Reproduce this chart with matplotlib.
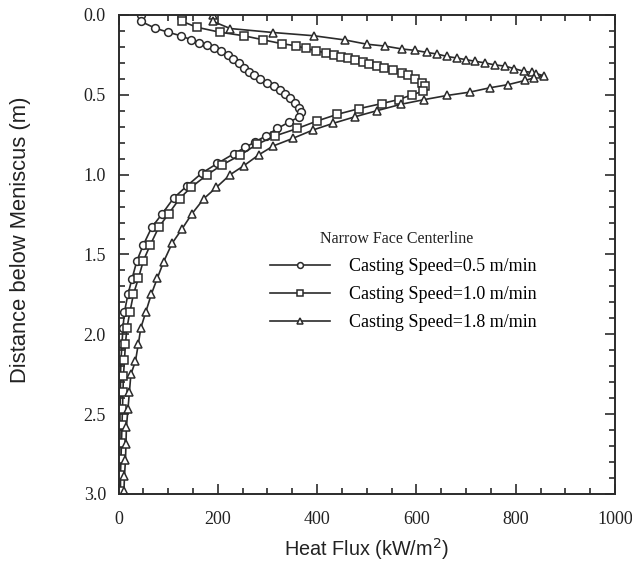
import matplotlib
matplotlib.use("Agg")
import matplotlib.pyplot as plt
from matplotlib.ticker import MultipleLocator, FormatStrFormatter

# Heat flux (kW/m^2) vs distance below meniscus (m), narrow face centerline
flux_05 = [45, 45, 74, 100, 125, 147, 163, 178, 193, 207, 220, 231, 242, 253,
           262, 273, 286, 300, 313, 325, 336, 346, 355, 363, 368, 363, 344,
           320, 297, 275, 255, 232, 199, 168, 138, 111, 88, 67, 50, 37, 27, 19,
           12, 9, 7, 5, 4, 4, 3, 3, 3, 2, 2, 2]
dist_05 = [0.0, 0.04, 0.083, 0.108, 0.13, 0.156, 0.176, 0.19, 0.207, 0.228,
           0.249, 0.274, 0.30, 0.332, 0.355, 0.378, 0.40, 0.425, 0.446, 0.473,
           0.494, 0.523, 0.55, 0.58, 0.61, 0.64, 0.67, 0.711, 0.757, 0.795,
           0.83, 0.87, 0.93, 0.99, 1.07, 1.147, 1.245, 1.33, 1.44, 1.54, 1.655,
           1.75, 1.86, 1.96, 2.06, 2.16, 2.26, 2.36, 2.47, 2.57, 2.68, 2.78,
           2.88, 2.98]

flux_10 = [128, 128, 158, 204, 252, 292, 329, 357, 378, 398, 418, 434, 448,
           462, 477, 492, 505, 520, 535, 553, 571, 584, 598, 611, 618, 614,
           591, 564, 530, 484, 441, 400, 360, 316, 279, 244, 208, 179, 146,
           123, 101, 81, 64, 50, 40, 30, 23, 17, 14, 12, 10, 9, 8, 7, 6, 5, 4,
           4]
dist_10 = [0.0, 0.04, 0.077, 0.108, 0.13, 0.156, 0.18, 0.193, 0.21, 0.224,
           0.238, 0.253, 0.263, 0.27, 0.284, 0.294, 0.307, 0.317, 0.33, 0.342,
           0.363, 0.378, 0.40, 0.425, 0.446, 0.477, 0.50, 0.53, 0.555, 0.587,
           0.622, 0.664, 0.711, 0.757, 0.81, 0.88, 0.94, 1.0, 1.08, 1.15,
           1.245, 1.33, 1.44, 1.54, 1.65, 1.75, 1.86, 1.96, 2.06, 2.16, 2.26,
           2.36, 2.47, 2.57, 2.68, 2.78, 2.88, 2.98]

flux_18 = [190, 190, 225, 312, 393, 457, 500, 537, 571, 598, 622, 642, 662,
           682, 700, 718, 738, 758, 778, 797, 817, 832, 841, 856, 837, 819,
           785, 748, 708, 662, 616, 568, 520, 477, 433, 392, 351, 312, 283,
           252, 225, 197, 172, 148, 128, 108, 91, 78, 66, 55, 45, 40, 34, 25,
           22, 19, 16, 15, 14, 12, 11]
dist_18 = [0.0, 0.04, 0.085, 0.11, 0.13, 0.157, 0.183, 0.195, 0.213, 0.222,
           0.235, 0.245, 0.26, 0.27, 0.28, 0.29, 0.30, 0.313, 0.32, 0.336,
           0.353, 0.36, 0.367, 0.38, 0.394, 0.41, 0.436, 0.456, 0.483, 0.504,
           0.53, 0.56, 0.60, 0.637, 0.678, 0.72, 0.773, 0.82, 0.875, 0.945,
           1.0, 1.08, 1.15, 1.245, 1.34, 1.43, 1.545, 1.65, 1.75, 1.86, 1.96,
           2.06, 2.17, 2.25, 2.36, 2.47, 2.58, 2.69, 2.79, 2.89, 2.98]

labels = ["Casting Speed=0.5 m/min", "Casting Speed=1.0 m/min",
          "Casting Speed=1.8 m/min"]
legend_title = "Narrow Face Centerline"
x_ticks = [0, 200, 400, 600, 800, 1000]
y_ticks = [0.0, 0.5, 1.0, 1.5, 2.0, 2.5, 3.0]

ink = "#2b2b2b"
serif = ["Liberation Serif", "DejaVu Serif"]
sans = ["Liberation Sans", "DejaVu Sans"]

fig = plt.figure(figsize=(6.32, 5.67), dpi=100)
ax = fig.add_axes([0.1875, 0.1288, 0.7856, 0.8448])

series = [(flux_05, dist_05, "o"), (flux_10, dist_10, "s"),
          (flux_18, dist_18, "^")]
for (xs, ys, mk), lab in zip(series, labels):
    ax.plot(xs, ys, color=ink, lw=1.2, marker=mk, markersize=5.6,
            markerfacecolor="white", markeredgecolor=ink, markeredgewidth=1.1,
            label=lab)

ax.set_xlim(0, 1000)
ax.set_ylim(3.0, 0.0)
ax.set_xticks(x_ticks)
ax.set_yticks(y_ticks)
ax.xaxis.set_minor_locator(MultipleLocator(50))
ax.yaxis.set_minor_locator(MultipleLocator(0.1))
ax.yaxis.set_major_formatter(FormatStrFormatter("%.1f"))
ax.tick_params(which="both", direction="in", top=True, right=True,
               color=ink, width=1.2)
ax.tick_params(which="major", length=7, pad=9)
ax.tick_params(axis="x", which="major", pad=12)
ax.tick_params(which="minor", length=4)
for lbl in ax.get_xticklabels() + ax.get_yticklabels():
    lbl.set_fontfamily(serif)
    lbl.set_fontsize(13)
    lbl.set_color("#222222")
for sp in ax.spines.values():
    sp.set_color(ink)
    sp.set_linewidth(1.4)

ax.set_xlabel("Heat Flux (kW/m$^{2}$)", fontfamily=sans, fontsize=14.3,
              color="#222222", labelpad=6)
ax.set_ylabel("Distance below Meniscus (m)", fontfamily=sans, fontsize=15.8,
              color="#222222")
ax.yaxis.set_label_coords(-0.176, 0.53)

ax.text(0.406, 0.533, legend_title, transform=ax.transAxes, ha="left",
        va="center", fontfamily=serif, fontsize=11.5, color="#222222")
ax.legend(loc="upper left", bbox_to_anchor=(0.305, 0.4925), frameon=False,
          borderpad=0, borderaxespad=0, handlelength=3.3, handletextpad=1.1,
          markerscale=0.75, labelspacing=0.62,
          prop={"family": serif, "size": 13})

fig.savefig("out.png", dpi=100, facecolor="white")
